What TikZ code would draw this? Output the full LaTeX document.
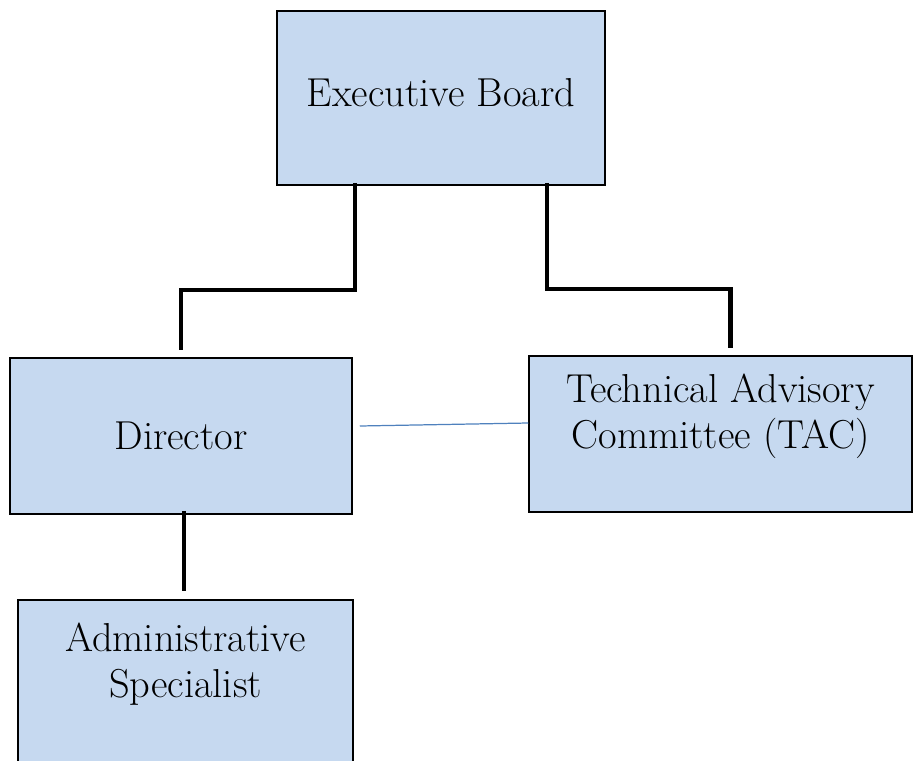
\documentclass[tikz,border=0pt]{standalone}
\definecolor{boxblue}{HTML}{C6D9F0}
\definecolor{linkblue}{HTML}{4F81BD}
\begin{document}
\begin{tikzpicture}[x=0.02cm,y=-0.02cm,
    box/.style={shape=rectangle,draw=black,line width=0.9pt,fill=boxblue,align=center,inner sep=0pt,font=\fontsize{23}{26}\selectfont},
    tie/.style={line width=2.5pt},
    link/.style={draw=linkblue,line width=0.7pt}]
    \useasboundingbox (0,0) rectangle (914,761);
    \node[box,minimum width=6.56cm,minimum height=3.48cm] (EB) at (441,98) {\raisebox{0.24cm}{Executive Board}};
    \node[box,minimum width=6.84cm,minimum height=3.12cm] (Dir) at (181,436) {Director};
    \node[box,minimum width=7.66cm,minimum height=3.12cm] (TAC) at (720.5,434) {Technical Advisory\\Committee (TAC)\\ \mbox{}};
    \node[box,minimum width=6.7cm,minimum height=3.32cm] (Adm) at (185.5,683) {Administrative\\Specialist\\ \mbox{}};

    \draw[tie] ([shift={(-86,-3)}]EB.south) -- ++(0,107) -| ([shift={(0,-7)}]Dir.north);
    \draw[tie] ([shift={(106,-3)}]EB.south) -- ++(0,106) -| ([shift={(10,-7)}]TAC.north);
    \draw[tie] ([shift={(3,-4)}]Dir.south) -- ([shift={(-1.5,-8)}]Adm.north);
    \draw[link] ([shift={(7,-10)}]Dir.east) -- ([shift={(0,-11)}]TAC.west);
\end{tikzpicture}
\end{document}
